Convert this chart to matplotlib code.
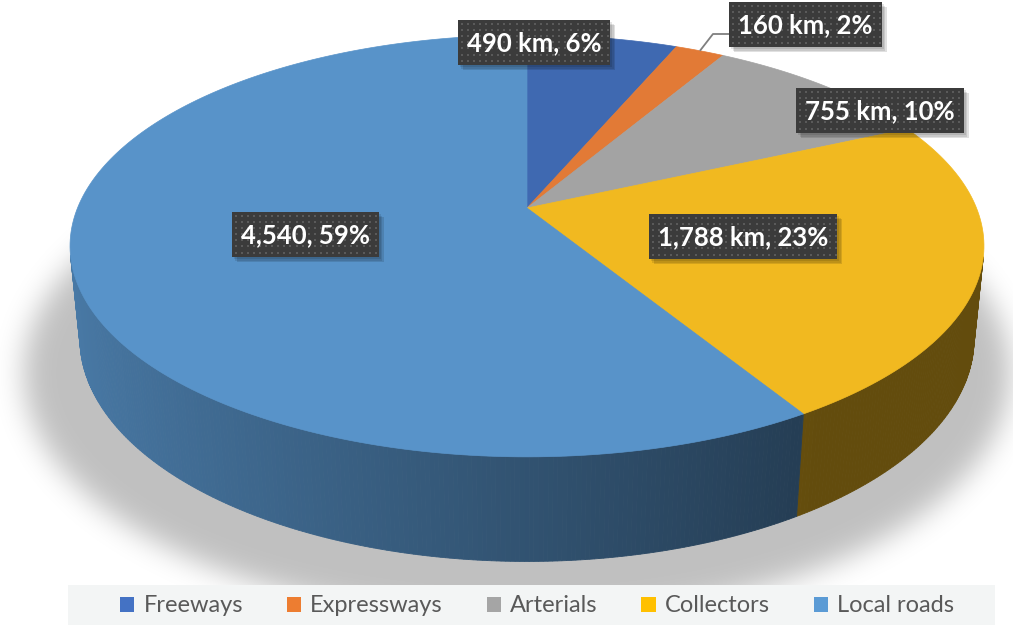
import numpy as np
import matplotlib
matplotlib.use("Agg")
import matplotlib.pyplot as plt
from matplotlib.path import Path
from matplotlib.patches import Polygon, Rectangle

# road network length by class
categories = ["Freeways", "Expressways", "Arterials", "Collectors", "Local roads"]
lengths_km = [490, 160, 755, 1788, 4540]
units = [" km", " km", " km", " km", ""]

top_colors = ["#3f69b1", "#e27a36", "#a3a3a3", "#f1b920", "#5893c9"]
legend_colors = ["#4472c4", "#ed7d31", "#a5a5a5", "#ffc000", "#5b9bd5"]

# label box centres (pixels)
label_pos = [(534, 42.5), (805.5, 24.5), (880, 110.5), (743, 236.5), (305, 234.5)]

W, H = 1013, 625

# perspective camera for the 3-D pie
elev = np.radians(27)
dist = 4.95
scale = 2225
cx, cy = 527, 208
thick = 0.233


def project(xw, yw, zw):
    depth = dist + yw * np.cos(elev) - zw * np.sin(elev)
    sx = xw / depth
    sy = (yw * np.sin(elev) + zw * np.cos(elev)) / depth
    return cx + scale * sx, cy - scale * sy


def ring(a0, a1, r=1.0, z=0.0, n=None):
    if n is None:
        n = max(4, int(np.degrees(a1 - a0)))
    a = np.linspace(a0, a1, n)
    px, py = project(r * np.sin(a), r * np.cos(a), z)
    return np.column_stack([px, py])


def gblur(img, sigma):
    pad = int(4 * sigma)
    big = np.pad(img, pad)
    ky = np.fft.fftfreq(big.shape[0])
    kx = np.fft.fftfreq(big.shape[1])
    g = np.exp(-2 * (np.pi * sigma) ** 2 * (ky[:, None] ** 2 + kx[None, :] ** 2))
    out = np.real(np.fft.ifft2(np.fft.fft2(big) * g))
    return out[pad:-pad, pad:-pad]


total = sum(lengths_km)
fracs = np.array(lengths_km) / total
edges = np.concatenate([[0], np.cumsum(fracs)]) * 2 * np.pi

plt.rcParams["font.family"] = ["Lato", "DejaVu Sans"]
fig = plt.figure(figsize=(W / 100, H / 100), dpi=100)
ax = fig.add_axes([0, 0, 1, 1])
ax.set_xlim(0, W)
ax.set_ylim(H, 0)
ax.axis("off")

# soft drop shadow under the pie
shadow_poly = ring(0, 2 * np.pi, r=1.1, z=-thick, n=360) + np.array([-10, 26])
yy, xx = np.mgrid[0:H, 0:W]
inside = Path(shadow_poly).contains_points(np.column_stack([xx.ravel() + 0.5, yy.ravel() + 0.5]))
mask = gblur(inside.reshape(H, W).astype(float), 14)
rgba = np.zeros((H, W, 4))
rgba[..., 3] = np.clip(mask, 0, 1) * 0.25
ax.imshow(rgba, extent=(0, W, H, 0), zorder=0, interpolation="bilinear")

# legend band
ax.add_patch(Rectangle((68, 585), 927, 40, facecolor="#f3f5f5", edgecolor="none", zorder=1))

# pie sides (only the part facing the camera)
vis_lim = -1.0 / (dist * np.cos(elev))
for i, col in enumerate(top_colors):
    base = np.array(matplotlib.colors.to_rgb(col))
    a = np.linspace(edges[i], edges[i + 1], max(3, int(np.degrees(edges[i + 1] - edges[i]) * 2)))
    for a0, a1 in zip(a[:-1], a[1:]):
        mid = 0.5 * (a0 + a1)
        if np.cos(mid) >= vis_lim:
            continue
        shade = np.clip(0.56 - 0.27 * np.sin(mid), 0.41, 0.85)
        fc = base * shade
        top = ring(a0, a1, z=0, n=2)
        bot = ring(a0, a1, z=-thick, n=2)
        quad = np.vstack([top, bot[::-1]])
        ax.add_patch(Polygon(quad, closed=True, facecolor=fc, edgecolor=fc, linewidth=0.6, zorder=2))

# pie top face
for i, col in enumerate(top_colors):
    arc = ring(edges[i], edges[i + 1], z=0)
    pts = np.vstack([[cx, cy], arc])
    ax.add_patch(Polygon(pts, closed=True, facecolor=col, edgecolor=col, linewidth=0.5, zorder=3))

# data labels
renderer = fig.canvas.get_renderer()
for i, (v, u) in enumerate(zip(lengths_km, units)):
    txt = f"{v:,}{u}, {round(100 * v / total)}%"
    lx, ly = label_pos[i]
    t = ax.text(lx, ly + 1, txt, ha="center", va="center", color="white",
                fontsize=18.5, fontweight="bold", zorder=8)
    bb = t.get_window_extent(renderer)
    x0, x1 = bb.x0 - 9, bb.x1 + 9
    y0, y1 = ly - 22.5, ly + 22.5
    for k, al in enumerate([0.10, 0.10, 0.12]):
        off = 2 + k * 1.5
        ax.add_patch(Rectangle((x0 + off, y0 + off), x1 - x0, y1 - y0,
                               facecolor="black", edgecolor="none", alpha=al, zorder=5))
    ax.add_patch(Rectangle((x0, y0), x1 - x0, y1 - y0, facecolor="#3b3b3b",
                           edgecolor="none", zorder=6))
    gx, gy = np.meshgrid(np.arange(x0 + 4, x1 - 1, 6.1), np.arange(y0 + 4, y1 - 1, 6.1))
    ax.scatter(gx.ravel(), gy.ravel(), s=1.5, marker="s", color="#5a5a5a",
               linewidths=0, zorder=7)
    if i == 1:
        mid = 0.5 * (edges[i] + edges[i + 1])
        sx, sy = project(np.sin(mid), np.cos(mid), 0)
        ax.plot([sx, sx + 13, x0], [sy, ly + 9.5, ly + 9.5], color="#7f7f7f",
                linewidth=1.3, zorder=4, solid_capstyle="butt")

handles = [Rectangle((0, 0), 1, 1, facecolor=c, edgecolor="none") for c in legend_colors]
ax.legend(handles, categories, ncol=5, loc="center", bbox_to_anchor=(537 / W, 1 - 606 / H),
          frameon=False, fontsize=17, handlelength=0.62, handleheight=0.62,
          handletextpad=0.38, columnspacing=1.85, labelcolor="#595959")

fig.savefig("out.png", dpi=100)
